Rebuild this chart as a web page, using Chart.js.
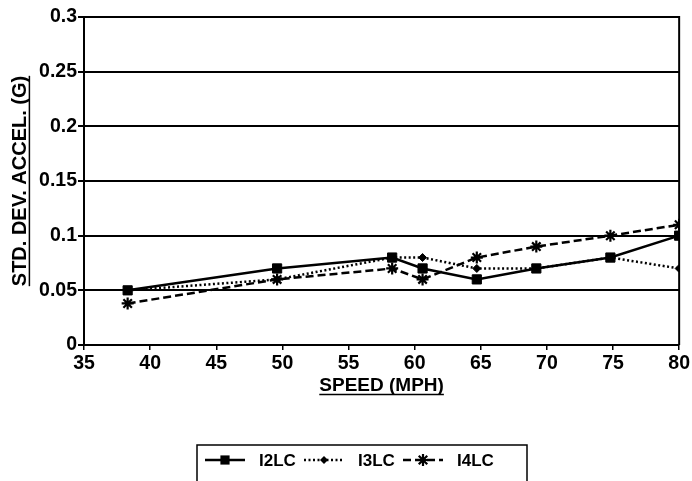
<!DOCTYPE html>
<html>
<head>
<meta charset="utf-8">
<script src="https://cdn.jsdelivr.net/npm/chart.js@4/dist/chart.umd.min.js"></script>
<style>
  html, body { margin: 0; padding: 0; background: #ffffff; }
  canvas { display: block; }
</style>
</head>
<body>
<canvas id="c" width="692" height="481"></canvas>
<script>
// ---- data ----
const speeds = [38.3, 49.6, 58.3, 60.6, 64.7, 69.2, 74.8, 80];
const i2lc   = [0.05, 0.07, 0.08, 0.07, 0.06, 0.07, 0.08, 0.10];
const i3lc   = [0.05, 0.06, 0.08, 0.08, 0.07, 0.07, 0.08, 0.07];
const i4lc   = [0.038, 0.06, 0.07, 0.06, 0.08, 0.09, 0.10, 0.11];
const seriesNames = ['I2LC', 'I3LC', 'I4LC'];
const xTickLabels = ['35', '40', '45', '50', '55', '60', '65', '70', '75', '80'];
const yTickLabels = ['0', '0.05', '0.1', '0.15', '0.2', '0.25', '0.3'];
const xTitle = 'SPEED (MPH)';
const yTitle = 'STD. DEV. ACCEL. (G)';

const FONT = '"Liberation Sans", Arial, Helvetica, sans-serif';

function pts(values) {
  return values.map((v, i) => ({ x: speeds[i], y: v }));
}

function drawMarker(ctx, style, r, x, y) {
  ctx.beginPath();
  if (style === 'rect') {
    const s = r * Math.SQRT1_2;
    ctx.rect(x - s, y - s, 2 * s, 2 * s);
    ctx.fill();
  } else if (style === 'rectRot') {
    ctx.moveTo(x, y - r); ctx.lineTo(x + r, y); ctx.lineTo(x, y + r); ctx.lineTo(x - r, y);
    ctx.closePath(); ctx.fill();
  } else if (style === 'star') {
    for (let k = 0; k < 4; k++) {
      const a = k * Math.PI / 4;
      ctx.moveTo(x - r * Math.cos(a), y - r * Math.sin(a));
      ctx.lineTo(x + r * Math.cos(a), y + r * Math.sin(a));
    }
    ctx.stroke();
  }
}

const framePlugin = {
  id: 'frame',
  afterDraw(chart) {
    const ctx = chart.ctx;
    const ca = chart.chartArea;
    ctx.save();
    // right border of the plot frame
    ctx.strokeStyle = '#000';
    ctx.lineWidth = 2;
    ctx.beginPath();
    ctx.moveTo(ca.right, ca.top - 1);
    ctx.lineTo(ca.right, ca.bottom);
    ctx.stroke();

    // underline the axis titles
    const xs = chart.scales.x, ys = chart.scales.y;
    const xt = xs.options.title, yt = ys.options.title;
    ctx.lineWidth = 1.5;
    ctx.font = 'bold ' + xt.font.size + 'px ' + FONT;
    let w = ctx.measureText(xt.text).width;
    let cx = (ca.left + ca.right) / 2;
    let ty = xs.bottom - xt.padding.bottom - (xt.font.size * 1.2) / 2 + xt.font.size * 0.47;
    ctx.beginPath(); ctx.moveTo(cx - w / 2, ty); ctx.lineTo(cx + w / 2, ty); ctx.stroke();

    ctx.font = 'bold ' + yt.font.size + 'px ' + FONT;
    w = ctx.measureText(yt.text).width;
    let cy = (ca.top + ca.bottom) / 2;
    let tx = ys.left + yt.padding.top + (yt.font.size * 1.2) / 2 + yt.font.size * 0.47;
    ctx.beginPath(); ctx.moveTo(tx, cy - w / 2); ctx.lineTo(tx, cy + w / 2); ctx.stroke();

    // legend box
    ctx.lineWidth = 1.5;
    ctx.strokeRect(197, 445, 330, 60);
    chart.data.datasets.forEach((ds, i) => {
      const x0 = 205 + i * 99, y = 460;
      ctx.strokeStyle = '#000';
      ctx.fillStyle = '#000';
      ctx.lineWidth = ds.borderWidth;
      ctx.setLineDash(ds.borderDash || []);
      ctx.beginPath(); ctx.moveTo(x0, y); ctx.lineTo(x0 + 40, y); ctx.stroke();
      ctx.setLineDash([]);
      ctx.lineWidth = ds.pointBorderWidth || 1;
      drawMarker(ctx, ds.pointStyle, ds.pointRadius, x0 + 20, y);
      ctx.font = 'bold 17px ' + FONT;
      ctx.textBaseline = 'middle';
      ctx.textAlign = 'left';
      ctx.fillText(ds.label, x0 + 54, y + 1);
    });
    ctx.restore();
  }
};

new Chart(document.getElementById('c'), {
  type: 'line',
  data: {
    datasets: [
      {
        label: seriesNames[0], data: pts(i2lc),
        borderColor: '#000', backgroundColor: '#000', borderWidth: 2.5,
        pointStyle: 'rect', pointRadius: 6.5, pointBackgroundColor: '#000',
        pointBorderColor: '#000', pointBorderWidth: 1, tension: 0
      },
      {
        label: seriesNames[1], data: pts(i3lc),
        borderColor: '#000', backgroundColor: '#000', borderWidth: 2.5, borderDash: [2, 2.5],
        pointStyle: 'rectRot', pointRadius: 4, pointBackgroundColor: '#000',
        pointBorderColor: '#000', pointBorderWidth: 1, tension: 0
      },
      {
        label: seriesNames[2], data: pts(i4lc),
        borderColor: '#000', backgroundColor: '#000', borderWidth: 2.5, borderDash: [8, 4],
        pointStyle: 'star', pointRadius: 6, pointBackgroundColor: '#000',
        pointBorderColor: '#000', pointBorderWidth: 2.2, tension: 0
      }
    ]
  },
  options: {
    responsive: false,
    animation: false,
    devicePixelRatio: 1,
    layout: { padding: { left: 0, right: 11, top: 17, bottom: 84 } },
    plugins: { legend: { display: false }, tooltip: { enabled: false } },
    scales: {
      x: {
        type: 'linear', min: 35, max: 80,
        afterFit(scale) { scale.height = 52; },
        ticks: {
          stepSize: 5, color: '#000', padding: 2, maxRotation: 0,
          font: { family: FONT, size: 19.5, weight: 'bold' },
          callback: (v) => xTickLabels[Math.round((v - 35) / 5)]
        },
        grid: { drawOnChartArea: false, drawTicks: true, tickLength: 5, color: '#000', lineWidth: 1.5 },
        border: { display: true, color: '#000', width: 2 },
        title: {
          display: true, text: xTitle, color: '#000',
          font: { family: FONT, size: 19, weight: 'bold' },
          padding: { top: 0, bottom: 0 }
        }
      },
      y: {
        type: 'linear', min: 0, max: 0.3,
        afterFit(scale) { scale.width = 84; },
        ticks: {
          stepSize: 0.05, color: '#000', padding: 1,
          font: { family: FONT, size: 19.5, weight: 'bold' },
          callback: (v) => yTickLabels[Math.round(v * 20)]
        },
        grid: { drawOnChartArea: true, drawTicks: true, tickLength: 6, color: '#000', lineWidth: 2 },
        border: { display: true, color: '#000', width: 2 },
        title: {
          display: true, text: yTitle, color: '#000',
          font: { family: FONT, size: 20, weight: 'bold' },
          padding: { top: 8, bottom: 0 }
        }
      }
    }
  },
  plugins: [framePlugin]
});
</script>
</body>
</html>
